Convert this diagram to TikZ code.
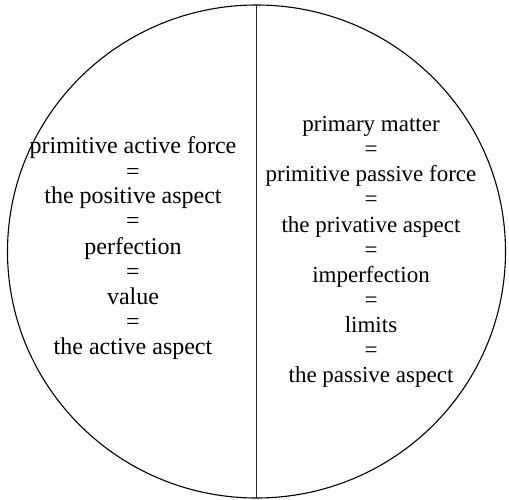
\documentclass[tikz,border=0pt]{standalone}
\usepackage{fontspec}
\setmainfont{Liberation Serif}
\usetikzlibrary{shapes.geometric}
\tikzset{
  lbl/.style={anchor=base, font=\fontsize{23}{25}\selectfont, inner sep=0pt},
  lblL/.style={lbl, font=\fontsize{24}{25}\selectfont},
  disc/.style={ellipse, draw, line width=1.1pt, minimum width=498pt, minimum height=493pt, inner sep=0pt, outer sep=0pt},
  divider/.style={line width=0.7pt, draw=black!85}
}
\begin{document}
\begin{tikzpicture}[x=1pt,y=-1pt]
\useasboundingbox (0,0) rectangle (509,500);
\node[disc] (disc) at (256.5,251.5) {};
\draw[divider] (disc.north) -- (disc.south);
\foreach \t [count=\i] in {primitive active force,=,the positive aspect,=,perfection,=,value,=,the active aspect}
  \node[lblL] (l\i) at (133,{154+25*(\i-1)}) {\t};
\foreach \t [count=\i] in {primary matter,=,primitive passive force,=,the privative aspect,=,imperfection,=,limits,=,the passive aspect}
  \node[lbl] (r\i) at (371,{132+25*(\i-1)}) {\t};
\end{tikzpicture}
\end{document}
